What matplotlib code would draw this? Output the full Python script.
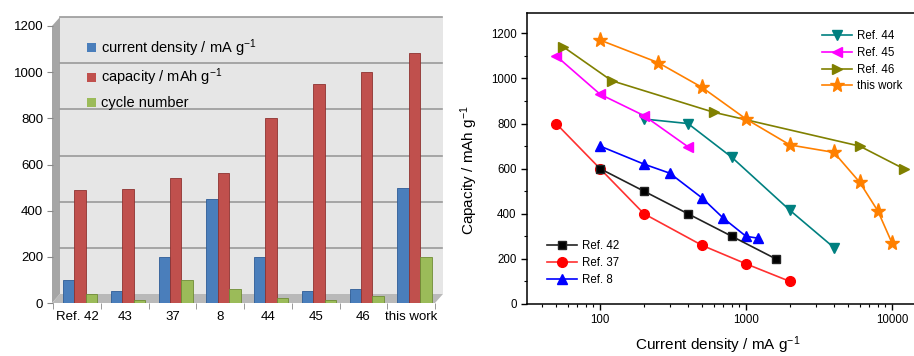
import matplotlib
matplotlib.use("Agg")
import matplotlib.pyplot as plt
from matplotlib.patches import Polygon, Patch
from matplotlib.ticker import MultipleLocator, LogLocator, NullFormatter
from matplotlib.transforms import ScaledTranslation

plt.rcParams['font.family'] = ['Liberation Sans', 'DejaVu Sans']
plt.rcParams['mathtext.default'] = 'regular'

# left panel: comparison bars
categories = ['Ref. 42', '43', '37', '8', '44', '45', '46', 'this work']
current_density = [100, 50, 200, 450, 200, 50, 60, 500]
capacity = [490, 495, 540, 565, 800, 950, 1000, 1085]
cycle_number = [40, 15, 100, 60, 20, 15, 30, 200]

# right panel: rate capability curves
ref42_x = [100, 200, 400, 800, 1600]
ref42_y = [600, 500, 400, 300, 200]
ref37_x = [50, 100, 200, 500, 1000, 2000]
ref37_y = [800, 600, 400, 260, 178, 100]
ref8_x = [100, 200, 300, 500, 700, 1000, 1200]
ref8_y = [700, 620, 580, 470, 380, 300, 292]
ref44_x = [200, 400, 800, 2000, 4000]
ref44_y = [820, 800, 650, 415, 250]
ref45_x = [50, 100, 200, 400]
ref45_y = [1100, 930, 835, 697]
ref46_x = [56, 120, 600, 6000, 12000]
ref46_y = [1140, 990, 850, 700, 600]
work_x = [100, 250, 500, 1000, 2000, 4000, 6000, 8000, 10000]
work_y = [1170, 1070, 960, 820, 705, 672, 540, 412, 270]

W, H = 914, 356
fig = plt.figure(figsize=(W / 100, H / 100), dpi=100)


def px(x0, y_top, x1, y_bot):
    return [x0 / W, 1 - y_bot / H, (x1 - x0) / W, (y_bot - y_top) / H]


def fpt(x, y):
    return (x / W, 1 - y / H)


# ---- left: pseudo 3D excel style bar chart
ax1 = fig.add_axes(px(53, 26, 435, 303))
ax1.set_xlim(-0.5, len(categories) - 0.5)
ax1.set_ylim(0, 1200)
ax1.set_facecolor('none')
for s in ax1.spines.values():
    s.set_visible(False)

# walls and floor
wall = Polygon([fpt(60, 294), fpt(443, 294), fpt(443, 17), fpt(60, 17)],
               closed=True, facecolor='#e6e6e6', edgecolor='none')
side = Polygon([fpt(52, 303), fpt(60, 294), fpt(60, 17), fpt(52, 26)],
               closed=True, facecolor='#a5a5a5', edgecolor='none')
floor = Polygon([fpt(52, 303), fpt(60, 294), fpt(443, 294), fpt(435, 303)],
                closed=True, facecolor='#b9b9b9', edgecolor='none')
for p in (wall, side, floor):
    p.set_transform(fig.transFigure)
    p.set_clip_on(False)
    p.set_zorder(0)
    ax1.add_patch(p)

back = ScaledTranslation(7 / 100, 9 / 100, fig.dpi_scale_trans)
for v in range(200, 1201, 200):
    ax1.plot([-0.5, 7.5], [v, v], color='#9a9a9a', lw=1.2,
             transform=ax1.transData + back, clip_on=False, zorder=1)

idx = range(len(categories))
w = 0.24
shift = 0.07
ax1.bar([i - w + shift for i in idx], current_density, w, color='#4a7ebb',
        edgecolor='#2d5c96', lw=0.6, zorder=3)
ax1.bar([i + shift for i in idx], capacity, w, color='#c0504d',
        edgecolor='#8e3230', lw=0.6, zorder=3)
ax1.bar([i + w + shift for i in idx], cycle_number, w, color='#9bbb59',
        edgecolor='#6f8c35', lw=0.6, zorder=3)

ax1.set_yticks(range(0, 1201, 200))
ax1.set_xticks(list(idx))
ax1.set_xticklabels(categories)
ax1.tick_params(axis='x', length=0, labelsize=9.5, pad=6)
ax1.tick_params(axis='y', length=4, direction='out', color='#888888',
                labelsize=9.5, pad=3)
ax1.set_xticks([i - 0.5 for i in range(len(categories) + 1)], minor=True)
ax1.tick_params(axis='x', which='minor', length=4, color='#888888')

h1 = [Patch(facecolor=c, edgecolor='none') for c in ('#4a7ebb', '#c0504d', '#9bbb59')]
l1 = ['current density / mA g$^{-1}$', 'capacity / mAh g$^{-1}$', 'cycle number']
fig.legend(h1, l1, loc='upper left', bbox_to_anchor=fpt(74, 24), frameon=False,
           fontsize=10.5, handlelength=0.6, handleheight=0.6, handletextpad=0.35,
           labelspacing=0.55)

# ---- right: capacity vs current density
ax2 = fig.add_axes(px(527, 13, 936, 304))
ax2.plot(ref42_x, ref42_y, color='#222222', marker='s', ms=6, lw=1.2,
         markerfacecolor='black', label='Ref. 42', zorder=5)
ax2.plot(ref37_x, ref37_y, color='#ff3030', marker='o', ms=7, lw=1.2,
         markerfacecolor='red', markeredgecolor='red', label='Ref. 37', zorder=4)
ax2.plot(ref8_x, ref8_y, color='blue', marker='^', ms=7, lw=1.2, label='Ref. 8')
ax2.plot(ref44_x, ref44_y, color='#008080', marker='v', ms=7, lw=1.2, label='Ref. 44')
ax2.plot(ref45_x, ref45_y, color='#ff00ff', marker='<', ms=7, lw=1.2, label='Ref. 45')
ax2.plot(ref46_x, ref46_y, color='#808000', marker='>', ms=7, lw=1.2, label='Ref. 46')
ax2.plot(work_x, work_y, color='#ff8000', marker='*', ms=11, lw=1.2, label='this work')

ax2.set_xscale('log')
ax2.set_xlim(31.6, 20000)
ax2.set_ylim(0, 1290)
ax2.yaxis.set_major_locator(MultipleLocator(200))
ax2.yaxis.set_minor_locator(MultipleLocator(100))
ax2.xaxis.set_minor_locator(LogLocator(base=10, subs=range(2, 10), numticks=20))
ax2.xaxis.set_minor_formatter(NullFormatter())
ax2.set_xticks([100, 1000, 10000])
ax2.set_xticklabels(['100', '1000', '10000'])
ax2.tick_params(which='major', direction='out', length=4, width=1, labelsize=8.3)
ax2.tick_params(which='minor', direction='out', length=2.5, width=0.8)
for s in ax2.spines.values():
    s.set_linewidth(1.1)
ax2.set_xlabel('Current density / mA g$^{-1}$', fontsize=11)
ax2.xaxis.set_label_coords(0.467, -0.105)
ax2.set_ylabel('Capacity / mAh g$^{-1}$', fontsize=11)
ax2.yaxis.set_label_coords(-0.115, 0.46)

hs, ls = ax2.get_legend_handles_labels()
leg_a = ax2.legend(hs[:3], ls[:3], loc='upper left', bbox_to_anchor=fpt(537, 230),
                   bbox_transform=fig.transFigure, frameon=False, fontsize=8.3,
                   handlelength=2.6, labelspacing=0.4, handletextpad=0.4)
ax2.add_artist(leg_a)
ax2.legend(hs[3:], ls[3:], loc='upper left', bbox_to_anchor=fpt(812, 20),
           bbox_transform=fig.transFigure, frameon=False, fontsize=8.3,
           handlelength=2.6, labelspacing=0.4, handletextpad=0.4)

fig.savefig('out.png', dpi=100)
